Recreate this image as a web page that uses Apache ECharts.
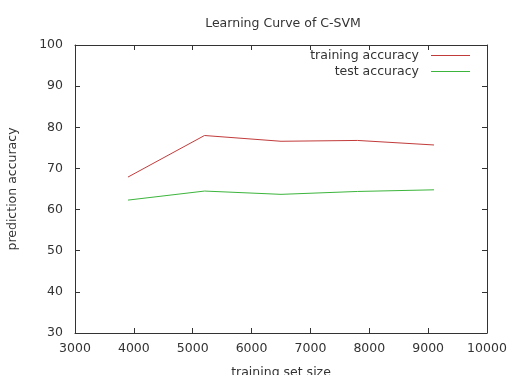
<!DOCTYPE html>
<html><head><meta charset="utf-8">
<script src="https://cdn.jsdelivr.net/npm/echarts@6/dist/echarts.min.js"></script>
<style>html,body{margin:0;padding:0;background:#fff}#c{width:509px;height:375px}</style>
</head><body><div id="c"></div>
<script>
const trainSizes = [3900, 5200, 6500, 7800, 9100];
const trainingAccuracy = [67.9, 78.0, 76.6, 76.8, 75.7];
const testAccuracy = [62.3, 64.5, 63.7, 64.4, 64.8];
const seriesNames = ['training accuracy', 'test accuracy'];

const font = 'DejaVu Sans';
const chart = echarts.init(document.getElementById('c'));
const axisCommon = {
  axisLine: {show: true, lineStyle: {color: '#333', width: 1}},
  axisTick: {show: true, inside: true, length: 5, lineStyle: {color: '#333'}},
  splitLine: {show: false}
};
chart.setOption({
  animation: false,
  backgroundColor: '#fff',
  title: {text: 'Learning Curve of C-SVM', left: 278, textAlign: 'center', top: 12,
    textStyle: {fontFamily: font, fontSize: 12.5, fontWeight: 'normal', color: '#333'}},
  legend: {
    orient: 'vertical', right: 34, top: 44, align: 'right', itemGap: 3,
    icon: 'rect', itemWidth: 39, itemHeight: 1,
    textStyle: {fontFamily: font, fontSize: 12.5, color: '#333', padding: [0, 7, 0, 0]},
    data: seriesNames
  },
  grid: {left: 75, right: 22, top: 45, bottom: 42, containLabel: false, outerBoundsMode: 'none'},
  xAxis: [
    Object.assign({type: 'value', min: 3000, max: 10000, interval: 1000, position: 'bottom',
      name: 'training set size', nameLocation: 'middle', nameGap: 33,
      nameTextStyle: {fontFamily: font, fontSize: 12.5, color: '#333'},
      axisLabel: {fontFamily: font, fontSize: 12.5, color: '#333', margin: 9,
        formatter: v => String(v)}}, axisCommon),
    Object.assign({type: 'value', min: 3000, max: 10000, interval: 1000, position: 'top',
      axisLabel: {show: false}}, axisCommon)
  ],
  yAxis: [
    Object.assign({type: 'value', min: 30, max: 100, interval: 10, position: 'left',
      name: 'prediction accuracy', nameLocation: 'middle', nameGap: 56, nameRotate: 90,
      nameTextStyle: {fontFamily: font, fontSize: 12.5, color: '#333'},
      axisLabel: {fontFamily: font, fontSize: 12.5, color: '#333', margin: 12}}, axisCommon),
    Object.assign({type: 'value', min: 30, max: 100, interval: 10, position: 'right',
      axisLabel: {show: false}}, axisCommon)
  ],
  series: [
    {name: seriesNames[0], type: 'line', symbol: 'none', color: '#c23b3b',
      lineStyle: {width: 1, color: '#c23b3b'},
      data: trainSizes.map((x, i) => [x, trainingAccuracy[i]])},
    {name: seriesNames[1], type: 'line', symbol: 'none', color: '#3cb53c',
      lineStyle: {width: 1, color: '#3cb53c'},
      data: trainSizes.map((x, i) => [x, testAccuracy[i]])}
  ]
});
</script></body></html>
